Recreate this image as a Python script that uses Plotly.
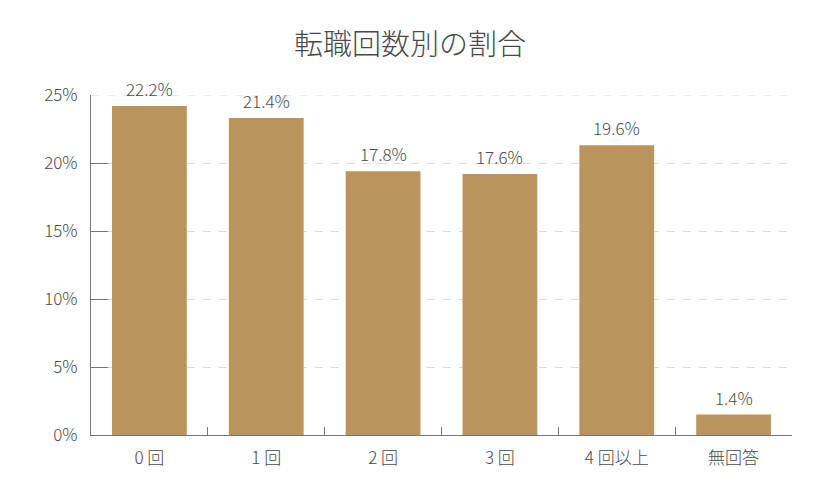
import plotly.graph_objects as go

categories = ["0 回", "1 回", "2 回", "3 回", "4 回以上", "無回答"]
bar_values = [24.2, 23.3, 19.4, 19.2, 21.3, 1.5]
label_texts = ["22.2%", "21.4%", "17.8%", "17.6%", "19.6%", "1.4%"]
y_ticks = [0, 5, 10, 15, 20, 25]

FONT = "Noto Sans CJK JP"
GRAY = "#4A4A4A"

fig = go.Figure(go.Bar(
    x=categories,
    y=bar_values,
    marker=dict(color="#BA945C", line=dict(width=0)),
    width=0.64,
    cliponaxis=False,
    hoverinfo="skip",
))

for c, v, t in zip(categories, bar_values, label_texts):
    fig.add_annotation(x=c, y=v, text=t, showarrow=False, yanchor="bottom",
                       yshift=3, font=dict(family=FONT, size=17, color=GRAY, weight=300))

# top gridline (plotly hides the grid line sitting on the plot edge)
fig.add_shape(type="line", xref="paper", x0=0, x1=1, yref="y", y0=y_ticks[-1], y1=y_ticks[-1],
              line=dict(color="#D9D9D9", width=1, dash="8px,8px"), layer="below")

fig.update_layout(
    width=820, height=500,
    margin=dict(l=91, r=28, t=95, b=65),
    paper_bgcolor="white", plot_bgcolor="white",
    title=dict(text="転職回数別の割合", x=0.5, xanchor="center", y=0.91, yanchor="middle",
               font=dict(family=FONT, size=29, color=GRAY, weight=300)),
    showlegend=False,
    font=dict(family=FONT, color=GRAY),
)
fig.update_yaxes(
    range=[0, 25], tickvals=y_ticks, ticktext=[f"{v}%" for v in y_ticks],
    showline=True, linecolor="#777777", linewidth=1,
    ticks="inside", ticklen=17, tickcolor="#777777",
    showgrid=True, gridcolor="#D9D9D9", griddash="8px,8px", gridwidth=1,
    zeroline=False,
    tickfont=dict(family=FONT, size=17, color=GRAY, weight=300),
    ticklabelstandoff=9,
)
fig.update_xaxes(
    showline=True, linecolor="#777777", linewidth=1,
    ticks="inside", tickson="boundaries", ticklen=8, tickcolor="#777777",
    tickfont=dict(family=FONT, size=17, color=GRAY, weight=300),
    ticklabelstandoff=8,
    showgrid=False,
)

fig.write_html("out.html")
